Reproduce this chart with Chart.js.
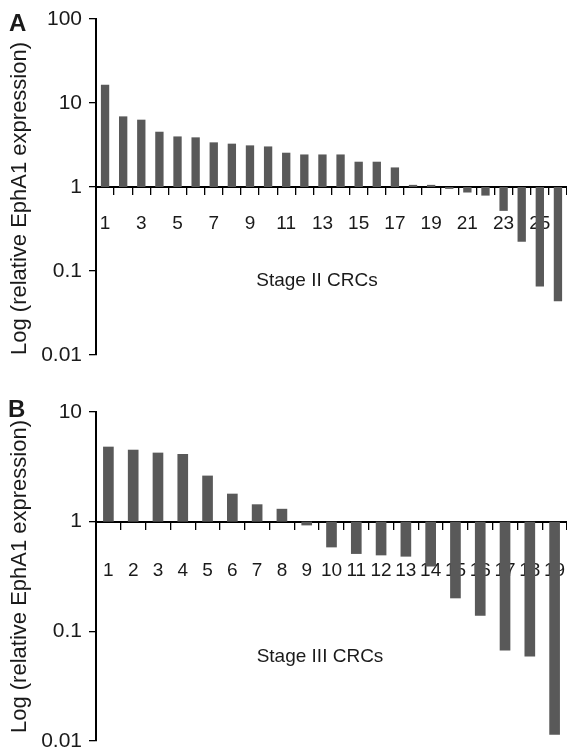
<!DOCTYPE html>
<html>
<head>
<meta charset="utf-8">
<script src="https://cdn.jsdelivr.net/npm/chart.js@4"></script>
<style>
    html, body { margin: 0; padding: 0; background: #fff; }
    body { width: 567px; height: 749px; position: relative; overflow: hidden; }
    .panel { position: absolute; left: 0; width: 567px; }
    #panelA { top: 0; height: 375px; }
    #panelB { top: 375px; height: 374px; }
</style>
</head>
<body>
<div class="panel" id="panelA"><canvas id="chartA"></canvas></div>
<div class="panel" id="panelB"><canvas id="chartB"></canvas></div>
<script>
const FONT = '"Liberation Sans", Arial, Helvetica, sans-serif';
const BAR_COLOR = '#595959';

// Panel A - Stage II CRCs
const casesA = ['1', '2', '3', '4', '5', '6', '7', '8', '9', '10', '11', '12', '13',
    '14', '15', '16', '17', '18', '19', '20', '21', '22', '23', '24', '25', '26'];
const expressionA = [16.5, 6.93, 6.33, 4.55, 4.0, 3.9, 3.4, 3.28, 3.13, 3.04, 2.56, 2.44, 2.44,
    2.44, 2.0, 2.0, 1.71, 1.06, 1.06, 0.95, 0.86, 0.79, 0.52, 0.223, 0.0656, 0.0435];
const yTicksA = [0.01, 0.1, 1, 10, 100];

// Panel B - Stage III CRCs
const casesB = ['1', '2', '3', '4', '5', '6', '7', '8', '9', '10', '11', '12', '13',
    '14', '15', '16', '17', '18', '19'];
const expressionB = [4.83, 4.53, 4.26, 4.14, 2.63, 1.8, 1.44, 1.31, 0.925, 0.583, 0.508, 0.493, 0.48,
    0.39, 0.2, 0.139, 0.0667, 0.0588, 0.0114];
const yTicksB = [0.01, 0.1, 1, 10];

const yTitle = 'Log (relative EphA1 expression)';

// panel letter and the x caption, drawn on top
const panelText = {
    id: 'panelText',
    afterDraw(chart, args, opts) {
        const ctx = chart.ctx;
        ctx.save();
        ctx.fillStyle = '#1a1a1a';
        ctx.textBaseline = 'alphabetic';
        ctx.textAlign = 'left';
        ctx.font = 'bold 24px ' + FONT;
        ctx.fillText(opts.letter, opts.letterX, opts.letterY);
        ctx.textAlign = 'center';
        ctx.font = '19px ' + FONT;
        ctx.fillText(opts.caption, opts.captionX, opts.captionY);
        ctx.restore();
    }
};

function makeChart(id, cases, values, yTicks, cfg) {
    return new Chart(document.getElementById(id), {
        type: 'bar',
        data: {
            labels: cases,
            datasets: [{
                // bars hang from 1, up or down
                data: values.map(v => [1, v]),
                backgroundColor: BAR_COLOR,
                borderWidth: 0,
                barPercentage: cfg.barPct,
                categoryPercentage: 1
            }]
        },
        options: {
            responsive: true,
            maintainAspectRatio: false,
            animation: false,
            layout: {
                padding: { top: cfg.padTop, bottom: cfg.padBottom, left: 0, right: 0 }
            },
            plugins: {
                legend: { display: false },
                tooltip: { enabled: false },
                panelText: cfg.text
            },
            scales: {
                x: {
                    position: { y: 1 },
                    offset: true,
                    grid: {
                        offset: true,
                        drawOnChartArea: false,
                        drawTicks: true,
                        tickLength: 7,
                        color: '#000',
                        lineWidth: 1.3
                    },
                    border: { display: true, color: '#000', width: 2 },
                    ticks: {
                        autoSkip: false,
                        maxRotation: 0,
                        padding: cfg.tickPad,
                        color: '#1a1a1a',
                        font: { family: FONT, size: 19 },
                        callback: function (value, index) {
                            return index % cfg.labelStep === 0 ? this.getLabelForValue(value) : '';
                        }
                    },
                    afterFit: s => { s.paddingLeft = 0; s.paddingRight = 0; }
                },
                y: {
                    type: 'logarithmic',
                    min: yTicks[0],
                    max: yTicks[yTicks.length - 1],
                    grid: {
                        drawOnChartArea: false,
                        drawTicks: true,
                        tickLength: 7,
                        color: '#000',
                        lineWidth: 1.3
                    },
                    border: { display: true, color: '#000', width: 2 },
                    ticks: {
                        padding: 7,
                        color: '#1a1a1a',
                        font: { family: FONT, size: 21 },
                        callback: v => String(v)
                    },
                    title: {
                        display: true,
                        text: yTitle,
                        align: cfg.titleAlign,
                        color: '#1a1a1a',
                        font: { family: FONT, size: 22 },
                        padding: { top: 7, bottom: 0 }
                    },
                    afterBuildTicks: s => { s.ticks = yTicks.map(v => ({ value: v })); },
                    afterFit: s => { s.width = 96; s.paddingTop = 0; s.paddingBottom = 0; }
                }
            }
        },
        plugins: [panelText]
    });
}

makeChart('chartA', casesA, expressionA, yTicksA, {
    barPct: 0.46, padTop: 19, padBottom: 20, tickPad: 18,
    labelStep: 2, titleAlign: 'start',
    text: { letter: 'A', letterX: 9, letterY: 30.5, caption: 'Stage II CRCs', captionX: 317, captionY: 286 }
});

makeChart('chartB', casesB, expressionB, yTicksB, {
    barPct: 0.43, padTop: 37, padBottom: 8, tickPad: 31,
    labelStep: 1, titleAlign: 'center',
    text: { letter: 'B', letterX: 8, letterY: 42, caption: 'Stage III CRCs', captionX: 320, captionY: 287 }
});
</script>
</body>
</html>
